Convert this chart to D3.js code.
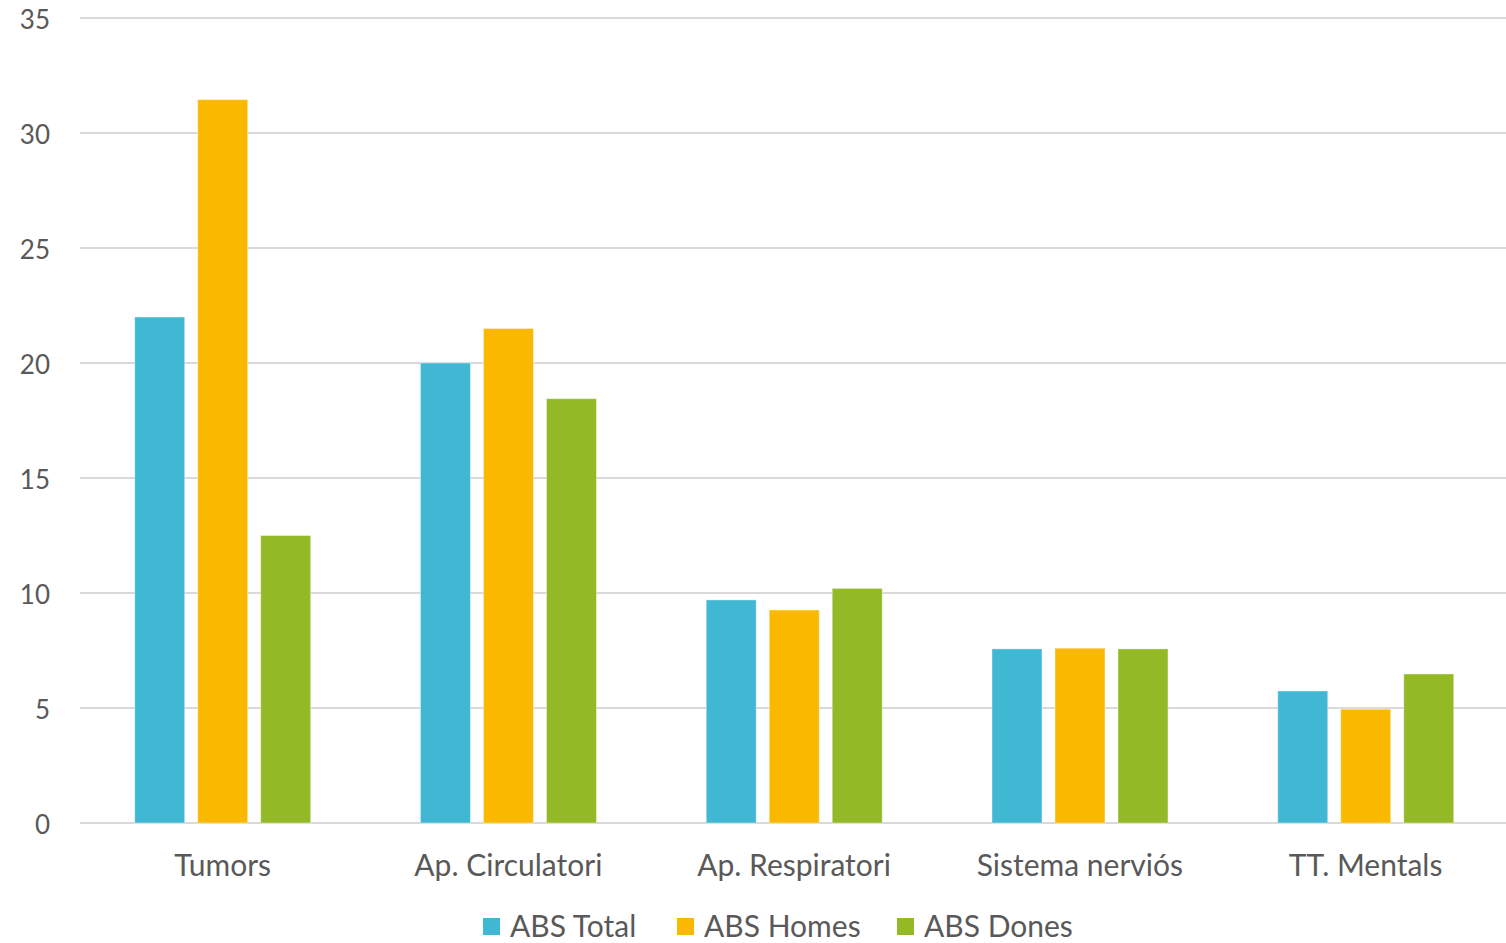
<!DOCTYPE html>
<html><head><meta charset="utf-8">
<script src="https://cdn.jsdelivr.net/npm/d3@7/dist/d3.min.js"></script>
<style>body{margin:0;background:#fff}text{font-family:Lato,"Open Sans",sans-serif;fill:#595959}</style>
</head><body><svg id="c" width="1506" height="943"></svg>
<script>
const categories = ["Tumors","Ap. Circulatori","Ap. Respiratori","Sistema nerviós","TT. Mentals"];
const seriesNames = ["ABS Total","ABS Homes","ABS Dones"];
const absTotal = [22.0, 20.0, 9.7, 7.57, 5.74];
const absHomes = [31.45, 21.5, 9.26, 7.6, 4.95];
const absDones = [12.5, 18.45, 10.2, 7.57, 6.48];
const yTicks = [0,5,10,15,20,25,30,35];
const colors = ["#41B8D3","#FBB800","#93BA26"];
const series = [absTotal, absHomes, absDones];

const svg = d3.select("#c");
const x = d3.scaleBand().domain(categories).range([79.7,1508.5]).paddingInner(0).paddingOuter(0);
const x1 = d3.scaleBand().domain(seriesNames).range([55, 231]).paddingInner(13/63).paddingOuter(0);
const y = d3.scaleLinear().domain([0,35]).range([823,18]);

svg.append("g").selectAll("line").data(yTicks).join("line")
  .attr("x1",80).attr("x2",1506).attr("y1",d=>y(d)).attr("y2",d=>y(d))
  .attr("stroke","#d9d9d9").attr("stroke-width",2);

svg.append("g").selectAll("text").data(yTicks).join("text")
  .attr("x",50).attr("y",d=>y(d)+11).attr("text-anchor","end")
  .attr("font-size",26).text(d=>d);

const g = svg.append("g");
categories.forEach((c,i)=>{
  seriesNames.forEach((s,j)=>{
    const v = series[j][i];
    g.append("rect").attr("x",x(c)+x1(s)).attr("width",x1.bandwidth())
      .attr("y",y(v)).attr("height",y(0)-y(v))
      .attr("fill",colors[j]).attr("stroke","rgba(255,255,255,0.4)").attr("stroke-width",1);
  });
});

svg.append("g").selectAll("text").data(categories).join("text")
  .attr("x",d=>x(d)+x.bandwidth()/2).attr("y",876).attr("text-anchor","middle")
  .attr("font-size",30).text(d=>d);

const legX = [483, 677, 897];
const leg = svg.append("g");
seriesNames.forEach((s,j)=>{
  leg.append("rect").attr("x",legX[j]).attr("y",918).attr("width",17).attr("height",17).attr("fill",colors[j]);
  leg.append("text").attr("x",legX[j]+27).attr("y",937).attr("font-size",30).text(s);
});
</script></body></html>
